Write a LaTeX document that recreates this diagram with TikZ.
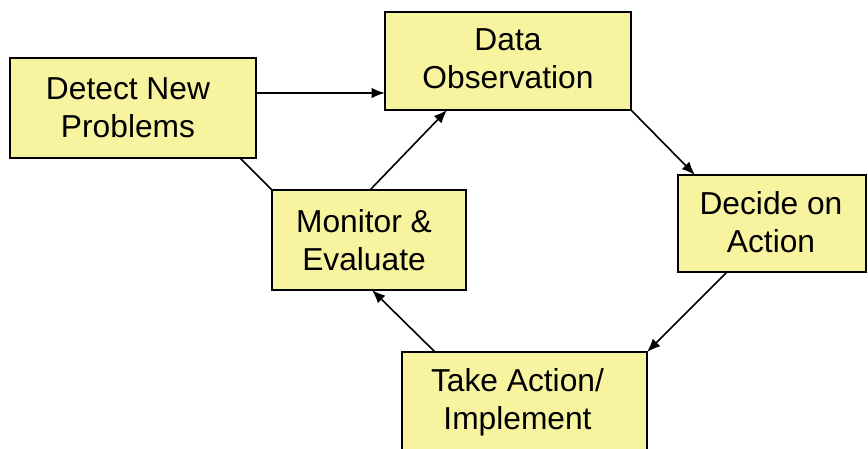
\documentclass[tikz,border=0pt]{standalone}
\usepackage{fontspec}
\setmainfont{Liberation Sans}
\usetikzlibrary{arrows.meta,calc}
\definecolor{boxfill}{RGB}{248,243,158}
\tikzset{
  box/.style={draw=black, line width=2.2pt, fill=boxfill, rectangle, outer sep=0pt, inner sep=0pt},
  txt/.style={inner sep=0pt, font=\fontsize{23.8pt}{28.5pt}\selectfont, align=center},
  conn/.style={line width=1.2pt, -{Latex[length=10pt,width=8pt]}},
  plain/.style={line width=1.2pt}
}
\begin{document}
\begin{tikzpicture}[x=0.75pt,y=-0.75pt]
\useasboundingbox (0,0) rectangle (868,449);
\clip (0,0) rectangle (868,449);
\node[box, minimum width=184.5pt, minimum height=75pt] (det) at (133,108) {};
\node[box, minimum width=184.5pt, minimum height=73.5pt] (data) at (508,61) {};
\node[box, minimum width=141pt, minimum height=72.75pt] (dec) at (772,223.5) {};
\node[box, minimum width=145.5pt, minimum height=75pt] (mon) at (369,240) {};
\node[box, minimum width=183.75pt, minimum height=75pt] (take) at (524.5,402) {};
\node[txt] (detT) at ($(det)+(-5,0)$) {Detect New\\Problems};
\node[txt] (dataT) at ($(data)+(0,-2)$) {Data\\Observation};
\node[txt] (decT) at ($(dec)+(-1,-1)$) {Decide on\\Action};
\node[txt] (monT) at ($(mon)+(-5,0)$) {Monitor \&\\Evaluate};
\node[txt] (takeT) at ($(take)+(-7,0)$) {Take Action/\\Implement};
\draw[conn, line width=1.6pt] ($(det.north east)+(0,35)$) -- ($(data.north west)+(0,81)$);
\draw[conn] (data.south east) -- ($(dec.north west)+(17,0)$);
\draw[conn] ($(dec.south west)+(49,0)$) -- (take.north east);
\draw[conn] ($(take.north west)+(33,0)$) -- ($(mon.south west)+(100,0)$);
\draw[conn] ($(mon.north west)+(98,0)$) -- ($(data.south west)+(62,0)$);
\draw[plain] ($(det.south west)+(230,0)$) -- (mon.north west);
\end{tikzpicture}
\end{document}
